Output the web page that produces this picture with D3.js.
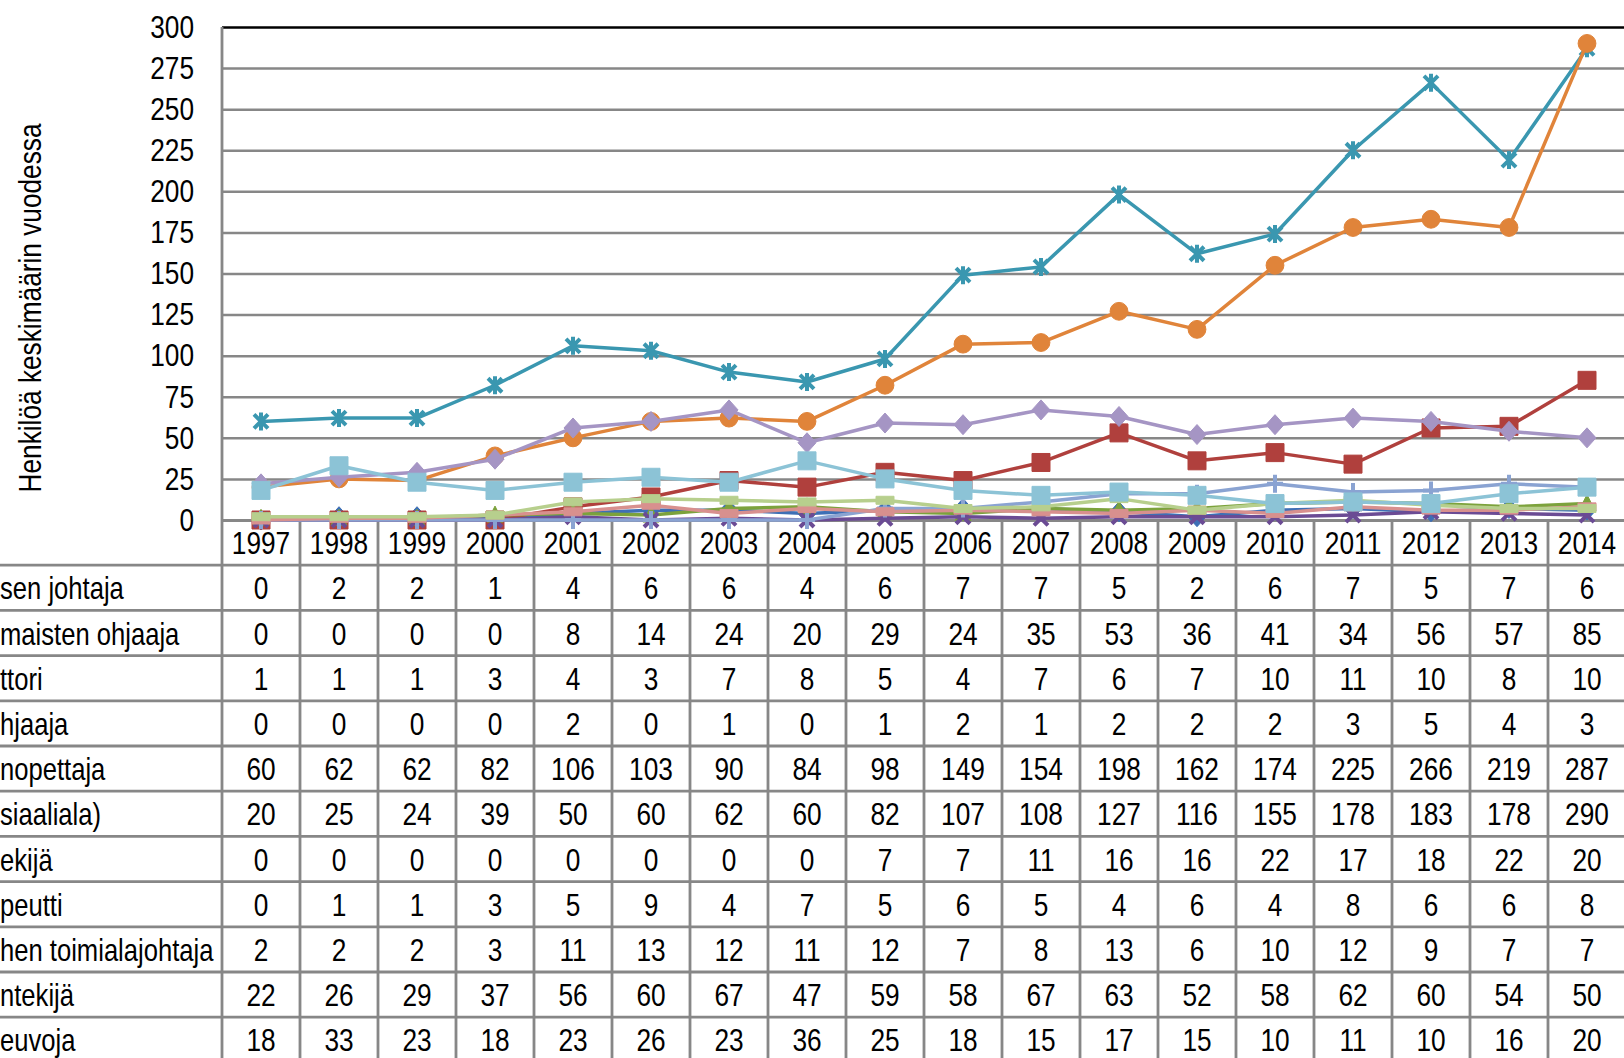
<!DOCTYPE html>
<html>
<head>
<meta charset="utf-8">
<script src="https://cdn.jsdelivr.net/npm/d3@7"></script>
<style>
  body { margin: 0; background: #fff; }
  svg { display: block; font-family: "Liberation Sans Narrow", "Arial Narrow", "Liberation Sans", Arial, sans-serif; }
  text { fill: #000; }
</style>
</head>
<body>
<div id="chart"></div>
<script>
const years = ["1997","1998","1999","2000","2001","2002","2003","2004","2005","2006","2007","2008","2009","2010","2011","2012","2013","2014"];
const yTicks = [0, 25, 50, 75, 100, 125, 150, 175, 200, 225, 250, 275, 300];
const yTitle = "Henkilöä keskimäärin vuodessa";

// row labels are cut by the left edge of the picture, only the visible part is kept
const seriesNames = ["sen johtaja", "maisten ohjaaja", "ttori", "hjaaja", "nopettaja", "siaaliala)", "ekijä", "peutti", "hen toimialajohtaja", "ntekijä", "euvoja"];

const johtaja     = [0, 2, 2, 1, 4, 6, 6, 4, 6, 7, 7, 5, 2, 6, 7, 5, 7, 6];
const ohjaaja     = [0, 0, 0, 0, 8, 14, 24, 20, 29, 24, 35, 53, 36, 41, 34, 56, 57, 85];
const ttori       = [1, 1, 1, 3, 4, 3, 7, 8, 5, 4, 7, 6, 7, 10, 11, 10, 8, 10];
const hjaaja      = [0, 0, 0, 0, 2, 0, 1, 0, 1, 2, 1, 2, 2, 2, 3, 5, 4, 3];
const opettaja    = [60, 62, 62, 82, 106, 103, 90, 84, 98, 149, 154, 198, 162, 174, 225, 266, 219, 287];
const sosiaaliala = [20, 25, 24, 39, 50, 60, 62, 60, 82, 107, 108, 127, 116, 155, 178, 183, 178, 290];
const ekija       = [0, 0, 0, 0, 0, 0, 0, 0, 7, 7, 11, 16, 16, 22, 17, 18, 22, 20];
const terapeutti  = [0, 1, 1, 3, 5, 9, 4, 7, 5, 6, 5, 4, 6, 4, 8, 6, 6, 8];
const toimiala    = [2, 2, 2, 3, 11, 13, 12, 11, 12, 7, 8, 13, 6, 10, 12, 9, 7, 7];
const tyontekija  = [22, 26, 29, 37, 56, 60, 67, 47, 59, 58, 67, 63, 52, 58, 62, 60, 54, 50];
const neuvoja     = [18, 33, 23, 18, 23, 26, 23, 36, 25, 18, 15, 17, 15, 10, 11, 10, 16, 20];

const seriesValues = [johtaja, ohjaaja, ttori, hjaaja, opettaja, sosiaaliala, ekija, terapeutti, toimiala, tyontekija, neuvoja];
const colors = ["#3e6fb5", "#b0403d", "#7ca23c", "#6b4b94", "#3a97b0", "#e0843a", "#8aa3d2", "#d8908e", "#b7cf8d", "#a595c4", "#8cc3d6"];
const markers = ["diamond", "square", "triangle", "x", "star", "circle", "plus", "dash", "dash", "diamond", "square"];

const width = 1624, height = 1058;
const plotLeft = 222, plotTop = 27, zeroY = 520, rowH = 45.2;
const gridColor = "#878787";

// no narrow font installed: squeeze the regular one to look like Arial Narrow
function condense(sel, k = 0.82) {
  sel.each(function () {
    const w = this.getComputedTextLength();
    d3.select(this).attr("textLength", w * k).attr("lengthAdjust", "spacingAndGlyphs");
  });
}

const svg = d3.select("#chart").append("svg")
  .attr("width", width)
  .attr("height", height);

const x = d3.scaleBand().domain(years).range([plotLeft, plotLeft + 78 * years.length]);
const y = d3.scaleLinear().domain([0, 300]).range([zeroY, plotTop]);
const plotRight = x.range()[1];

// gridlines
svg.append("g")
  .attr("transform", `translate(${plotLeft},0)`)
  .call(d3.axisLeft(y).tickValues(yTicks).tickSize(-(plotRight - plotLeft)).tickFormat(""))
  .call(g => g.select(".domain").remove())
  .call(g => g.selectAll("line")
    .attr("stroke", d => d === 300 ? "#000" : gridColor)
    .attr("stroke-width", 2.5));

// tick labels
svg.append("g")
  .attr("transform", `translate(${plotLeft},0)`)
  .call(d3.axisLeft(y).tickValues(yTicks).tickSize(0).tickPadding(28))
  .call(g => g.select(".domain").remove())
  .call(g => g.selectAll("text")
    .attr("font-size", 32)
    .attr("font-family", null)
    .attr("fill", "#000")
    .call(condense));

svg.append("text")
  .attr("transform", "translate(41,308) rotate(-90)")
  .attr("text-anchor", "middle")
  .attr("font-size", 32)
  .text(yTitle)
  .call(condense);

// data table
const rowY = i => zeroY + rowH * (i + 1);
const table = svg.append("g");
table.selectAll("line.row")
  .data(seriesNames)
  .join("line")
  .attr("class", "row")
  .attr("x1", 0).attr("x2", plotRight)
  .attr("y1", (d, i) => rowY(i)).attr("y2", (d, i) => rowY(i))
  .attr("stroke", gridColor).attr("stroke-width", 2.8);
table.selectAll("line.col")
  .data(years.slice(1))
  .join("line")
  .attr("class", "col")
  .attr("x1", d => x(d)).attr("x2", d => x(d))
  .attr("y1", zeroY).attr("y2", height)
  .attr("stroke", gridColor).attr("stroke-width", 2.8);
table.append("line")
  .attr("x1", plotLeft).attr("x2", plotLeft)
  .attr("y1", plotTop).attr("y2", height)
  .attr("stroke", gridColor).attr("stroke-width", 2.8);

// header years
svg.append("g")
  .attr("transform", `translate(0,${zeroY})`)
  .call(d3.axisBottom(x).tickSize(0).tickPadding(11))
  .call(g => g.select(".domain").attr("stroke", gridColor).attr("stroke-width", 2.8))
  .call(g => g.selectAll("text")
    .attr("font-size", 32)
    .attr("font-family", null)
    .attr("fill", "#000")
    .call(condense));

const rows = table.selectAll("g.tr")
  .data(seriesNames.map((name, i) => ({ name, values: seriesValues[i], i })))
  .join("g")
  .attr("class", "tr")
  .attr("transform", d => `translate(0,${rowY(d.i) + rowH / 2})`);
rows.append("text")
  .attr("x", 0)
  .attr("dy", "0.36em")
  .attr("font-size", 32)
  .text(d => d.name)
  .call(condense, 0.8);
rows.selectAll("text.v")
  .data(d => d.values.map((v, j) => ({ v, year: years[j] })))
  .join("text")
  .attr("class", "v")
  .attr("x", d => x(d.year) + x.bandwidth() / 2)
  .attr("dy", "0.36em")
  .attr("text-anchor", "middle")
  .attr("font-size", 32)
  .text(d => d.v)
  .call(condense);

// lines and markers
const line = d3.line()
  .x((d, j) => x(years[j]) + x.bandwidth() / 2)
  .y(d => y(d));

function markerPath(type) {
  switch (type) {
    case "diamond": return "M0,-10L9,0L0,10L-9,0Z";
    case "square": return "M-9,-9H9V9H-9Z";
    case "triangle": return "M0,-9L8,7H-8Z";
    case "circle": return d3.symbol(d3.symbolCircle, 250)();
    case "dash": return "M-9,-4H9V4H-9Z";
    case "x": return "M-7,-7L7,7M7,-7L-7,7";
    case "plus": return "M-8,0H8M0,-9V9";
    case "star": return "M-7,-7L7,7M7,-7L-7,7M0,-9V9";
  }
}
const strokeOnly = ["x", "plus", "star"];

const series = svg.append("g").selectAll("g")
  .data(seriesValues.map((values, i) => ({ values, i })))
  .join("g");

series.append("path")
  .attr("d", d => line(d.values))
  .attr("fill", "none")
  .attr("stroke", d => colors[d.i])
  .attr("stroke-width", 3.5)
  .attr("stroke-linejoin", "round");

series.selectAll("path.m")
  .data(d => d.values.map((v, j) => ({ v, j, i: d.i })))
  .join("path")
  .attr("class", "m")
  .attr("transform", d => `translate(${x(years[d.j]) + x.bandwidth() / 2},${y(d.v)})`)
  .attr("d", d => markerPath(markers[d.i]))
  .attr("fill", d => strokeOnly.includes(markers[d.i]) ? "none" : colors[d.i])
  .attr("stroke", d => colors[d.i])
  .attr("stroke-width", d => strokeOnly.includes(markers[d.i]) ? 4 : 1)
  .attr("stroke-linejoin", "round");
</script>
</body>
</html>
